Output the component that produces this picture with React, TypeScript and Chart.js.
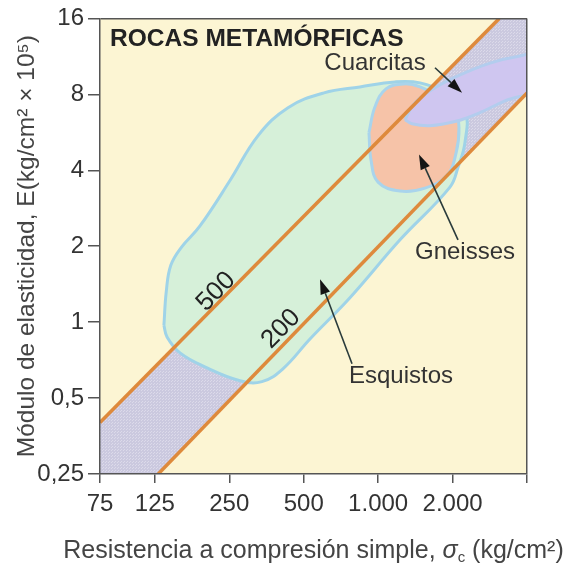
import { useEffect, useRef } from 'react';
import { Chart, registerables } from 'chart.js';

Chart.register(...registerables);

const FONT = '"Liberation Sans", Arial, Helvetica, sans-serif';

// Axis ticks
const xTicks = [75, 125, 250, 500, 1000, 2000, 4000];
const xTickLabels = ['75', '125', '250', '500', '1.000', '2.000', ''];
const yTicks = [0.25, 0.5, 1, 2, 4, 8, 16];
const yTickLabels = ['0,25', '0,5', '1', '2', '4', '8', '16'];

// X axis title pieces (main text, symbol, subscript, unit)
const xTitleParts = ['Resistencia a compresión simple, ', 'σ', 'c', ' (kg/cm²)'];

// Ratio lines E/σc
const line500X = [75, 3090];
const line500Y = [0.4, 16];
const line200X = [129, 4000];
const line200Y = [0.25, 8.1];

// Band between the two ratio lines
const bandX = [75, 3090, 4000, 4000, 129, 75, 75];
const bandY = [0.4, 16, 16, 8.1, 0.25, 0.25, 0.4];

// Esquistos outline
const esqX = [136, 139, 145, 160, 190, 252, 327, 432, 604, 844, 1170, 1477, 1864, 2245, 2245, 2104, 1952, 1226, 769, 530, 412, 339, 276, 199, 158, 140, 136];
const esqY = [0.97, 1.32, 1.68, 1.98, 2.4, 3.65, 5.49, 7.08, 8.11, 8.56, 8.96, 8.88, 8.11, 6.89, 5.16, 4.11, 3.43, 2.12, 1.25, 0.857, 0.653, 0.581, 0.586, 0.665, 0.755, 0.873, 0.97];

// Gneisses outline
const gneX = [918, 971, 1076, 1272, 1477, 1779, 2046, 2123, 2065, 1899, 1547, 1226, 999, 936, 918];
const gneY = [5.64, 7.14, 8.41, 8.8, 8.56, 7.75, 6.89, 5.91, 4.67, 3.82, 3.4, 3.31, 3.59, 4.38, 5.64];

// Cuarcitas outline
const cuaX = [1284, 1409, 1698, 2144, 2834, 3578, 4515, 4515, 3259, 2582, 2046, 1621, 1371, 1284];
const cuaY = [6.35, 7.41, 8.49, 9.55, 10.64, 11.24, 11.44, 8.56, 7.54, 6.77, 6.24, 6.01, 6.12, 6.35];

// Text annotations
const textLabels = ['ROCAS METAMÓRFICAS', 'Cuarcitas', 'Gneisses', 'Esquistos'];
const textX = [82.4, 971, 2245, 1237];
const textY = [13.2, 10.64, 1.89, 0.607];

// Ratio labels on lines
const ratioLabels = ['500', '200'];
const ratioX = [221, 405];
const ratioY = [1.32, 0.94];

// Arrows (tail -> tip)
const arrowTailX = [1698, 2104, 784];
const arrowTailY = [10.2, 2.12, 0.684];
const arrowTipX = [2184, 1463, 582];
const arrowTipY = [8.11, 4.62, 1.48];

const pts = (xs: number[], ys: number[]) => xs.map((v, i) => ({ x: v, y: ys[i] }));

function makeBandPattern(): CanvasPattern | string {
  const c = document.createElement('canvas');
  c.width = 3;
  c.height = 3;
  const g = c.getContext('2d');
  if (!g) return '#cdcbe0';
  g.fillStyle = '#cbc9df';
  g.fillRect(0, 0, 3, 3);
  g.fillStyle = '#dcdaea';
  g.fillRect(0, 0, 1, 1);
  g.fillRect(1, 2, 1, 1);
  const p = g.createPattern(c, 'repeat');
  return p || '#cdcbe0';
}

const decorPlugin = {
  id: 'decor',
  beforeDraw(chart: any) {
    const { ctx, chartArea: a } = chart;
    ctx.save();
    ctx.fillStyle = '#fcf5d3';
    ctx.fillRect(a.left, a.top, a.right - a.left, a.bottom - a.top);
    ctx.restore();
  },
  afterDatasetsDraw(chart: any) {
    const { ctx, scales } = chart;
    const xs = scales.x;
    const ys = scales.y;
    ctx.save();
    // arrows
    for (let i = 0; i < arrowTailX.length; i++) {
      const x0 = xs.getPixelForValue(arrowTailX[i]);
      const y0 = ys.getPixelForValue(arrowTailY[i]);
      const x1 = xs.getPixelForValue(arrowTipX[i]);
      const y1 = ys.getPixelForValue(arrowTipY[i]);
      const ang = Math.atan2(y1 - y0, x1 - x0);
      const c = Math.cos(ang);
      const s = Math.sin(ang);
      const hl = 15;
      const hw = 5;
      const bx = x1 - hl * c;
      const by = y1 - hl * s;
      ctx.strokeStyle = '#2a3b3b';
      ctx.lineWidth = 1.6;
      ctx.beginPath();
      ctx.moveTo(x0, y0);
      ctx.lineTo(bx, by);
      ctx.stroke();
      ctx.fillStyle = '#141414';
      ctx.beginPath();
      ctx.moveTo(x1, y1);
      ctx.lineTo(bx + hw * s, by - hw * c);
      ctx.lineTo(bx - hw * s, by + hw * c);
      ctx.closePath();
      ctx.fill();
    }
    // text labels
    ctx.textBaseline = 'middle';
    for (let i = 0; i < textLabels.length; i++) {
      const px = xs.getPixelForValue(textX[i]);
      const py = ys.getPixelForValue(textY[i]);
      if (i === 0) {
        ctx.font = `bold 24.5px ${FONT}`;
        ctx.textAlign = 'left';
        ctx.fillStyle = '#222';
      } else {
        ctx.font = `24px ${FONT}`;
        ctx.textAlign = 'center';
        ctx.fillStyle = '#333';
      }
      ctx.fillText(textLabels[i], px, py);
    }
    // ratio labels rotated along lines
    const lx0 = xs.getPixelForValue(line500X[0]);
    const ly0 = ys.getPixelForValue(line500Y[0]);
    const lx1 = xs.getPixelForValue(line500X[1]);
    const ly1 = ys.getPixelForValue(line500Y[1]);
    const rot = Math.atan2(ly1 - ly0, lx1 - lx0);
    ctx.font = `26px ${FONT}`;
    ctx.textAlign = 'center';
    ctx.fillStyle = '#222';
    for (let i = 0; i < ratioLabels.length; i++) {
      const px = xs.getPixelForValue(ratioX[i]);
      const py = ys.getPixelForValue(ratioY[i]);
      ctx.save();
      ctx.translate(px, py);
      ctx.rotate(rot);
      ctx.fillText(ratioLabels[i], 0, 0);
      ctx.restore();
    }
    ctx.restore();
  },
  afterDraw(chart: any) {
    // x-axis title with italic sigma and subscript c
    const { ctx, chartArea: a } = chart;
    ctx.save();
    const fMain = `25px ${FONT}`;
    const fSym = `italic 25px ${FONT}`;
    const fSub = `15px ${FONT}`;
    const fonts = [fMain, fSym, fSub, fMain];
    const widths = xTitleParts.map((t, i) => {
      ctx.font = fonts[i];
      return ctx.measureText(t).width;
    });
    const total = widths.reduce((s, w) => s + w, 0);
    let cx = (a.left + a.right) / 2 - total / 2;
    const baseY = 558;
    ctx.fillStyle = '#444';
    ctx.textAlign = 'left';
    ctx.textBaseline = 'alphabetic';
    xTitleParts.forEach((t, i) => {
      ctx.font = fonts[i];
      ctx.fillText(t, cx, i === 2 ? baseY + 4 : baseY);
      cx += widths[i];
    });
    ctx.restore();
  },
};

export default function App() {
  const ref = useRef<HTMLCanvasElement | null>(null);

  useEffect(() => {
    if (!ref.current) return;
    Chart.defaults.font.family = FONT;
    const band = makeBandPattern();
    const chart = new Chart(ref.current, {
      type: 'scatter',
      data: {
        datasets: [
          {
            label: '500',
            data: pts(line500X, line500Y),
            showLine: true,
            borderColor: '#de8a3c',
            borderWidth: 3.5,
            pointRadius: 0,
            fill: false,
            order: 0,
          },
          {
            label: '200',
            data: pts(line200X, line200Y),
            showLine: true,
            borderColor: '#de8a3c',
            borderWidth: 3.5,
            pointRadius: 0,
            fill: false,
            order: 0,
          },
          {
            label: 'Cuarcitas',
            data: pts(cuaX, cuaY),
            showLine: true,
            borderColor: '#b3cdee',
            backgroundColor: '#cfc6f0',
            borderWidth: 3,
            pointRadius: 0,
            tension: 0.4,
            fill: 'shape',
            order: 1,
          },
          {
            label: 'Gneisses',
            data: pts(gneX, gneY),
            showLine: true,
            borderColor: '#a9d4ec',
            backgroundColor: '#f6c3a8',
            borderWidth: 3,
            pointRadius: 0,
            tension: 0.4,
            fill: 'shape',
            order: 2,
          },
          {
            label: 'Esquistos',
            data: pts(esqX, esqY),
            showLine: true,
            borderColor: '#9fd3e8',
            backgroundColor: '#d6f0d9',
            borderWidth: 3,
            pointRadius: 0,
            tension: 0.4,
            fill: 'shape',
            order: 3,
          },
          {
            label: 'band',
            data: pts(bandX, bandY),
            showLine: true,
            borderColor: 'rgba(0,0,0,0)',
            backgroundColor: band as any,
            borderWidth: 0,
            pointRadius: 0,
            fill: 'shape',
            order: 4,
          },
        ],
      },
      options: {
        animation: false,
        responsive: false,
        devicePixelRatio: 1,
        layout: { padding: { top: 15, right: 38, bottom: 0, left: 0 } },
        plugins: {
          legend: { display: false },
          tooltip: { enabled: false },
        },
        scales: {
          x: {
            type: 'logarithmic',
            position: 'bottom',
            min: 75,
            max: 4000,
            afterBuildTicks: (s: any) => {
              s.ticks = xTicks.map((v) => ({ value: v }));
            },
            afterFit: (s: any) => {
              s.height = 96;
            },
            ticks: {
              autoSkip: false,
              maxRotation: 0,
              padding: 7,
              color: '#333',
              font: { size: 24 },
              callback: (v: any) => {
                const i = xTicks.indexOf(Number(v));
                return i >= 0 ? xTickLabels[i] : '';
              },
            },
            grid: {
              z: 1,
              drawOnChartArea: true,
              color: (c: any) => (c.tick && c.tick.value === 4000 ? '#555' : 'rgba(0,0,0,0)'),
              tickColor: '#555',
              tickLength: 9,
              lineWidth: 1.5,
            },
            border: { z: 1, color: '#555', width: 1.5 },
            title: { display: false },
          },
          y: {
            type: 'logarithmic',
            position: 'left',
            min: 0.25,
            max: 16,
            afterBuildTicks: (s: any) => {
              s.ticks = yTicks.map((v) => ({ value: v }));
            },
            afterFit: (s: any) => {
              s.width = 100;
            },
            ticks: {
              autoSkip: false,
              padding: 4,
              color: '#333',
              font: { size: 24 },
              callback: (v: any) => {
                const i = yTicks.indexOf(Number(v));
                return i >= 0 ? yTickLabels[i] : '';
              },
            },
            grid: {
              z: 1,
              drawOnChartArea: true,
              color: (c: any) => (c.tick && c.tick.value === 16 ? '#555' : 'rgba(0,0,0,0)'),
              tickColor: '#555',
              tickLength: 12,
              lineWidth: 1.5,
            },
            border: { z: 1, color: '#555', width: 1.5 },
            title: {
              display: true,
              text: 'Módulo de elasticidad, E(kg/cm² × 10⁵)',
              color: '#444',
              font: { size: 24.5 },
              padding: { top: 13, bottom: 0 },
            },
          },
        },
      },
      plugins: [decorPlugin],
    } as any);
    return () => chart.destroy();
  }, []);

  return (
    <div style={{ position: 'absolute', left: 0, top: 0, width: 565, height: 570, background: '#fff' }}>
      <canvas ref={ref} width={565} height={570} style={{ width: 565, height: 570, display: 'block' }} />
    </div>
  );
}
